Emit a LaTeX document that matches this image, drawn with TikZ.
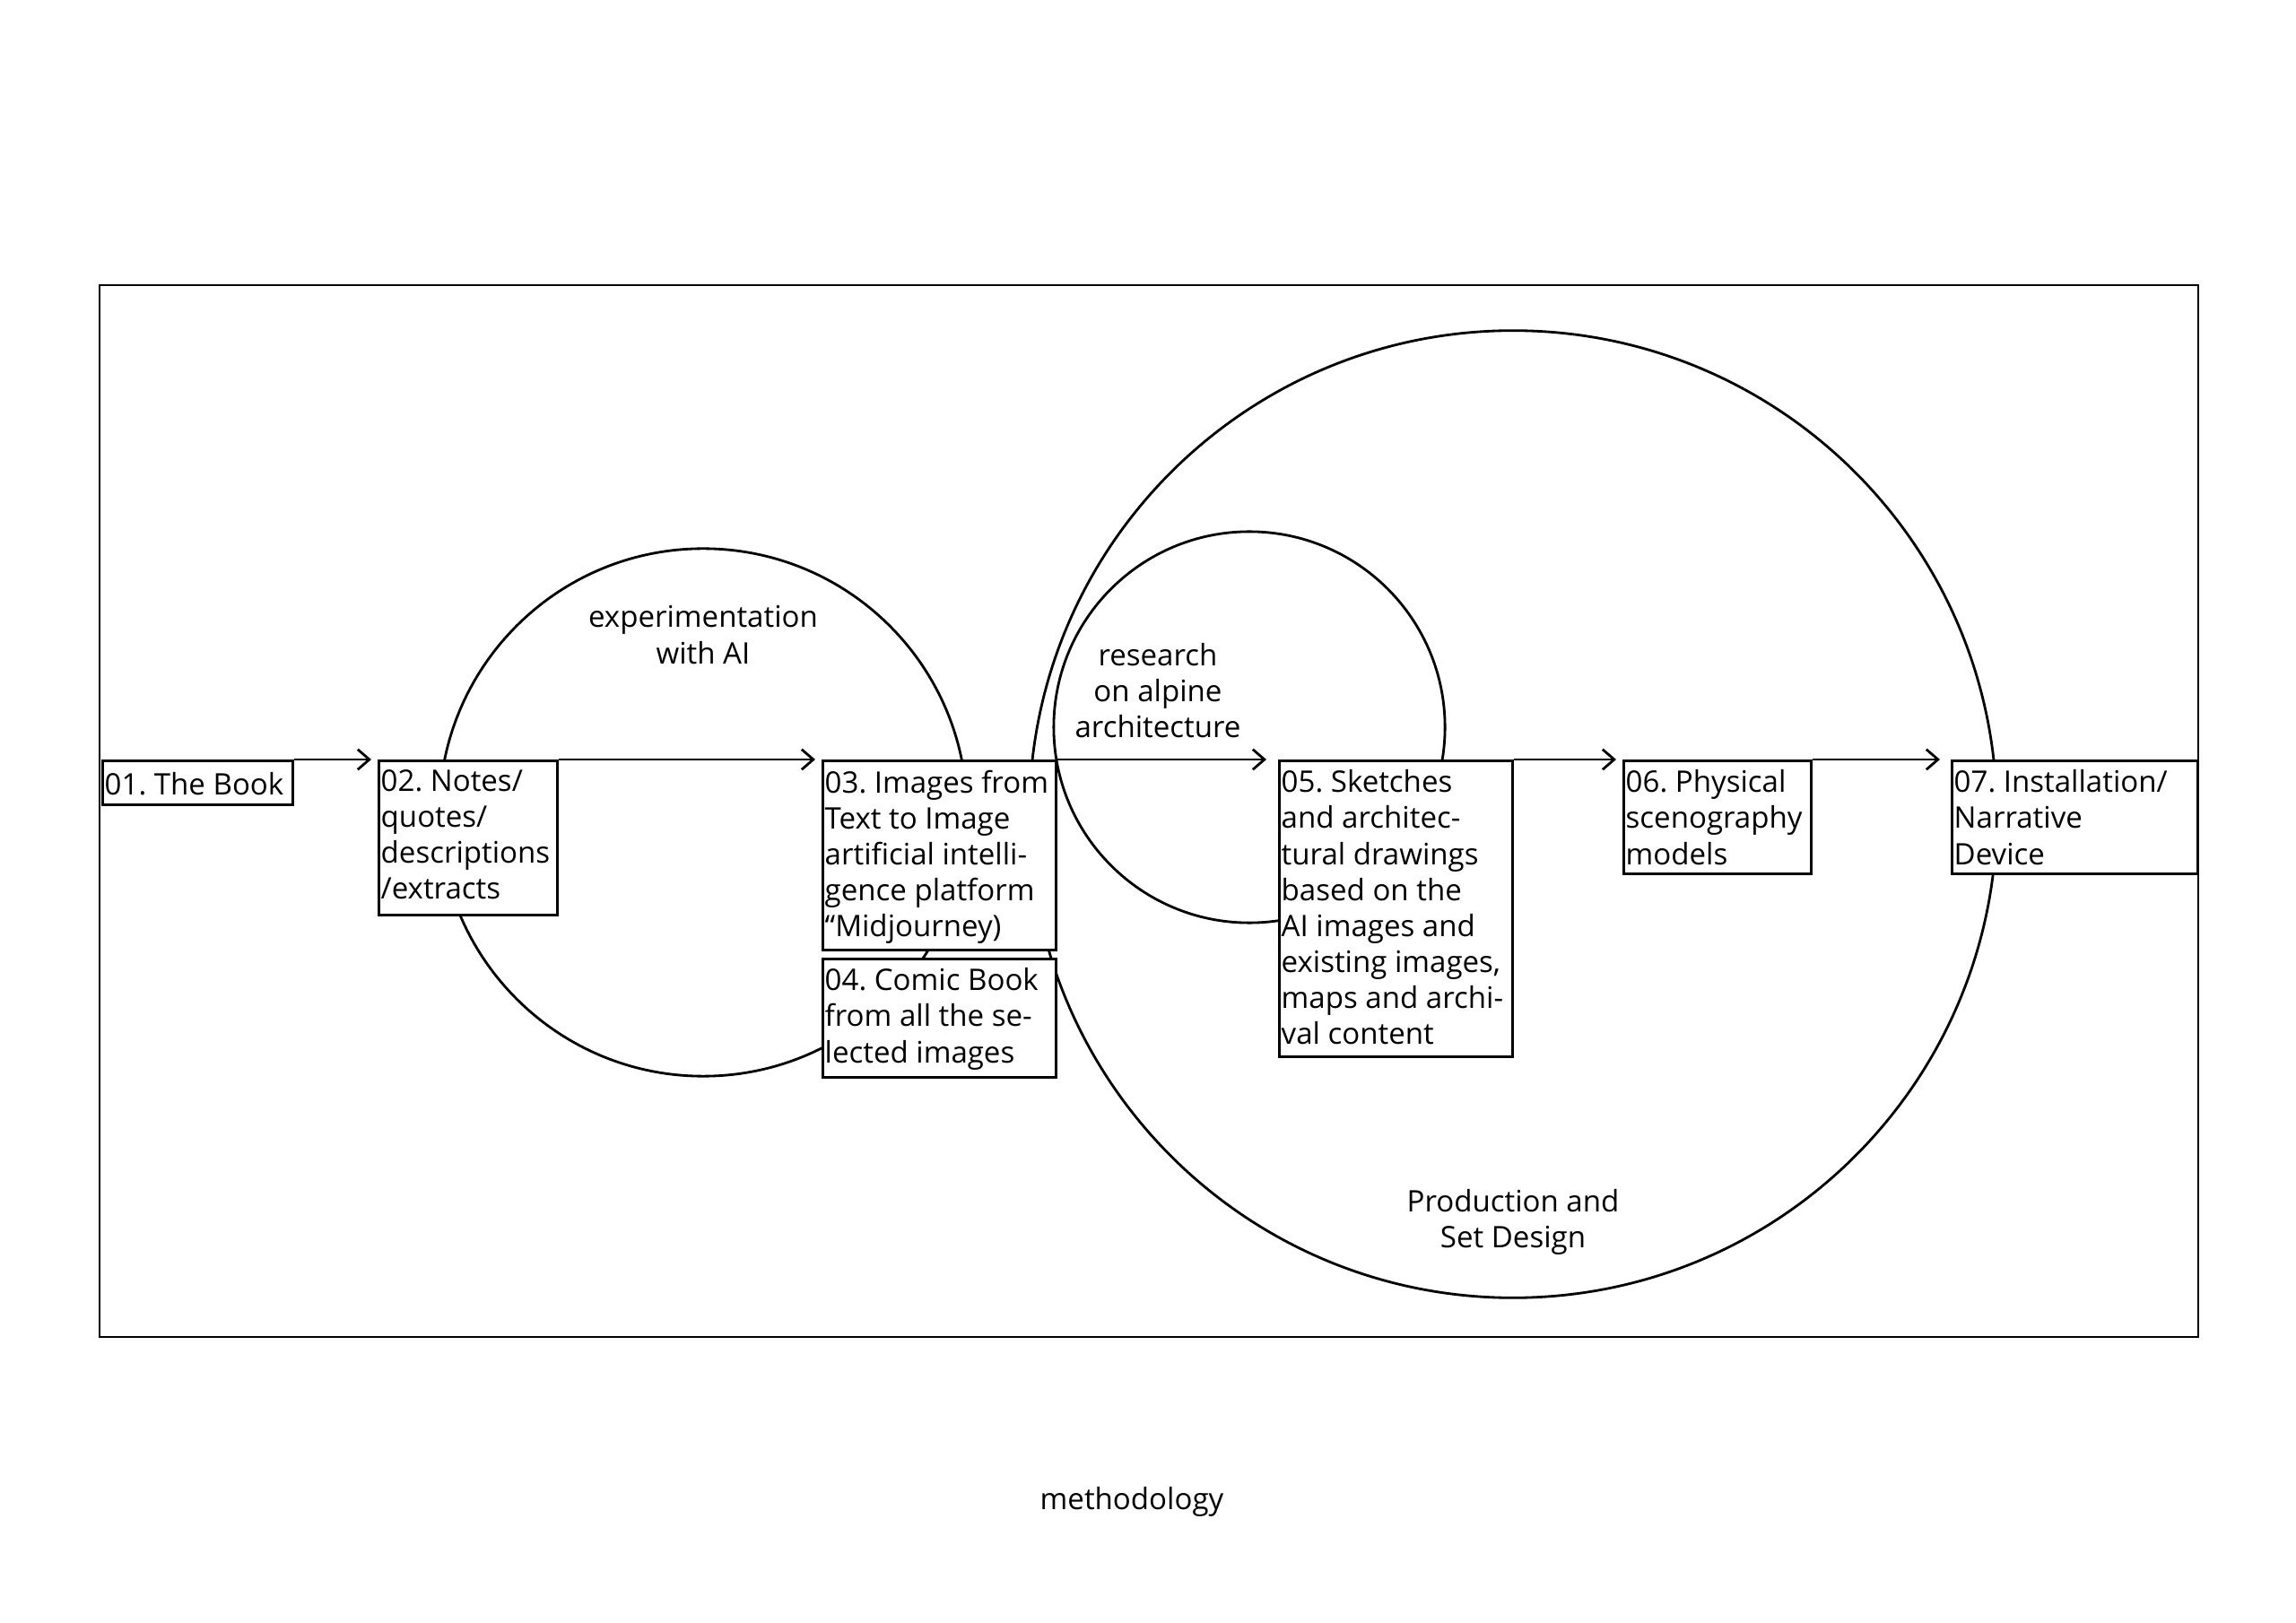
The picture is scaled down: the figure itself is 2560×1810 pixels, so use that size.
\documentclass[tikz,border=0pt]{standalone}
\usepackage{fontspec}
\setmainfont{Open Sans}
\usetikzlibrary{arrows.meta}
\begin{document}
\frenchspacing
\begin{tikzpicture}[x=0.01cm,y=-0.01cm,
  every node/.style={font=\fontsize{9.4}{11.4}\selectfont},
  stroke/.style={line width=0.8pt},
  box/.style={stroke,draw,fill=white,anchor=north west,inner sep=0pt},
  txt/.style={anchor=north west,align=left,inner sep=0pt,execute at begin node={\strut}},
  arr/.style={stroke,-{Straight Barb[length=3.7pt,width=6.4pt]},shorten >=0.07cm},
  lab/.style={align=center,inner sep=0pt}]
\useasboundingbox (0,0) rectangle (2560,1810);
% frame
\draw[stroke] (111,318) rectangle (2451,1491);
% circles
\draw[stroke] (784,906) circle[radius=2.94cm];
\draw[stroke] (1687,908) circle[radius=5.39cm];
\draw[stroke] (1393,811) circle[radius=2.18cm];
% labels
\node[lab] (l1) at (784,708) {experimentation\\with AI};
\node[lab] (l2) at (1291,770) {research\\on alpine\\architecture};
\node[lab] (l3) at (1687,1363) {Production and\\Set Design};
\node[lab] (l4) at (1262,1675) {methodology};
% boxes
\node[box,minimum width=2.12cm,minimum height=0.49cm] (b1) at (113,847) {};
\node[box,minimum width=1.99cm,minimum height=1.72cm] (b2) at (421,847) {};
\node[box,minimum width=2.60cm,minimum height=2.11cm] (b3) at (916,847) {};
\node[box,minimum width=2.60cm,minimum height=1.32cm] (b4) at (916,1068) {};
\node[box,minimum width=2.60cm,minimum height=3.30cm] (b5) at (1425,847) {};
\node[box,minimum width=2.09cm,minimum height=1.26cm] (b6) at (1809,847) {};
\node[box,minimum width=2.74cm,minimum height=1.26cm] (b7) at (2175,847) {};
% box texts
\node[txt] (t1) at ([shift={(0.03cm,-0.11cm)}]b1.north west) {01. The Book};
\node[txt] (t2) at ([shift={(0.03cm,-0.11cm)}]b2.north west) {02. Notes/\\quotes/\\descriptions\\/extracts};
\node[txt] (t3) at ([shift={(0.03cm,-0.11cm)}]b3.north west) {03. Images from\\Text to Image\\artificial intelli-\\gence platform\\“Midjourney)};
\node[txt] (t4) at ([shift={(0.03cm,-0.11cm)}]b4.north west) {04. Comic Book\\from all the se-\\lected images};
\node[txt] (t5) at ([shift={(0.03cm,-0.11cm)}]b5.north west) {05. Sketches\\and architec-\\tural drawings\\based on the\\AI images and\\existing images,\\maps and archi-\\val content};
\node[txt] (t6) at ([shift={(0.03cm,-0.11cm)}]b6.north west) {06. Physical\\scenography\\models};
\node[txt] (t7) at ([shift={(0.03cm,-0.11cm)}]b7.north west) {07. Installation/\\Narrative\\Device};
% connectors
\draw[arr] (b1.north east) -- (b2.north west);
\draw[arr] (b2.north east) -- (b3.north west);
\draw[arr] (b3.north east) -- ([xshift=-0.06cm]b5.north west);
\draw[arr] (b5.north east) -- (b6.north west);
\draw[arr] (b6.north east) -- ([xshift=-0.05cm]b7.north west);
\end{tikzpicture}
\end{document}
